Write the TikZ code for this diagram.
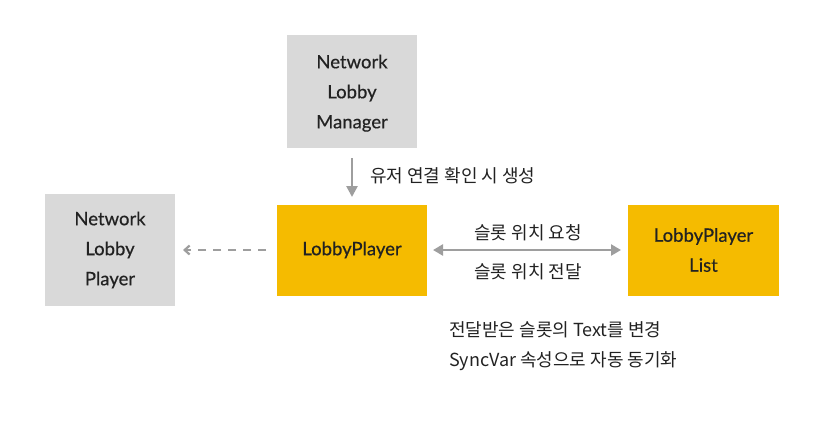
\documentclass[tikz,border=0pt]{standalone}
\usepackage{fontspec}
\setmainfont{Lato}
\newfontfamily\latomed{Lato}[FakeBold=0.5]
\newfontfamily\kr{Noto Sans CJK KR}
\usetikzlibrary{arrows.meta}
\definecolor{boxgray}{HTML}{D9D9D9}
\definecolor{boxyellow}{HTML}{F5BB00}
\definecolor{arrowgray}{HTML}{9E9E9E}
\definecolor{txt}{HTML}{222222}
\tikzset{
  graybox/.style={fill=boxgray, draw=none, inner sep=0pt, align=center, text=txt, font=\latomed\fontsize{18.5}{30}\selectfont},
  yellowbox/.style={fill=boxyellow, draw=none, inner sep=0pt, align=center, text=txt, font=\latomed\fontsize{18.5}{30}\selectfont},
  lbl/.style={text=txt, inner sep=0pt, font=\kr\fontsize{18}{30}\selectfont},
  conn/.style={draw=arrowgray, line width=2.6pt},
}
\begin{document}
\begin{tikzpicture}[x=1pt,y=-1pt]
\useasboundingbox (0,0) rectangle (830,426);
\node[graybox, minimum width=130pt, minimum height=113pt, text depth=-2pt] (mgr) at (352,91.5) {Network\\Lobby\\Manager};
\node[graybox, minimum width=130pt, minimum height=112pt] (nlp) at (110,250) {Network\\Lobby\\Player};
\node[yellowbox, minimum width=150pt, minimum height=91pt] (lp) at (352,250) {LobbyPlayer};
\node[yellowbox, minimum width=151pt, minimum height=91pt] (lpl) at (703.5,250) {LobbyPlayer\\List};
\coordinate (dtop) at (352,158);
\coordinate (dbot) at (352,197);
\draw[conn, -{Triangle[length=11pt,width=11pt]}] (dtop) -- (dbot);
\node[lbl, anchor=west] (create) at (370,176) {유저 연결 확인 시 생성};
\coordinate (ds) at (266,250);
\coordinate (de) at (183,250);
\draw[conn, dash pattern=on 8pt off 7pt, -{Straight Barb[length=5pt,width=9pt,line width=2.2pt]}] (ds) -- (de);
\coordinate (bl) at (433,250);
\coordinate (br) at (621,250);
\draw[conn, {Triangle[length=10pt,width=11pt]}-{Triangle[length=10pt,width=11pt]}] (bl) -- (br);
\node[lbl] (req) at (528,233) {슬롯 위치 요청};
\node[lbl] (snd) at (528,272) {슬롯 위치 전달};
\node[lbl, anchor=west, align=left] (note) at (449,346) {전달받은 슬롯의 Text를 변경\\SyncVar 속성으로 자동 동기화};
\end{tikzpicture}
\end{document}
